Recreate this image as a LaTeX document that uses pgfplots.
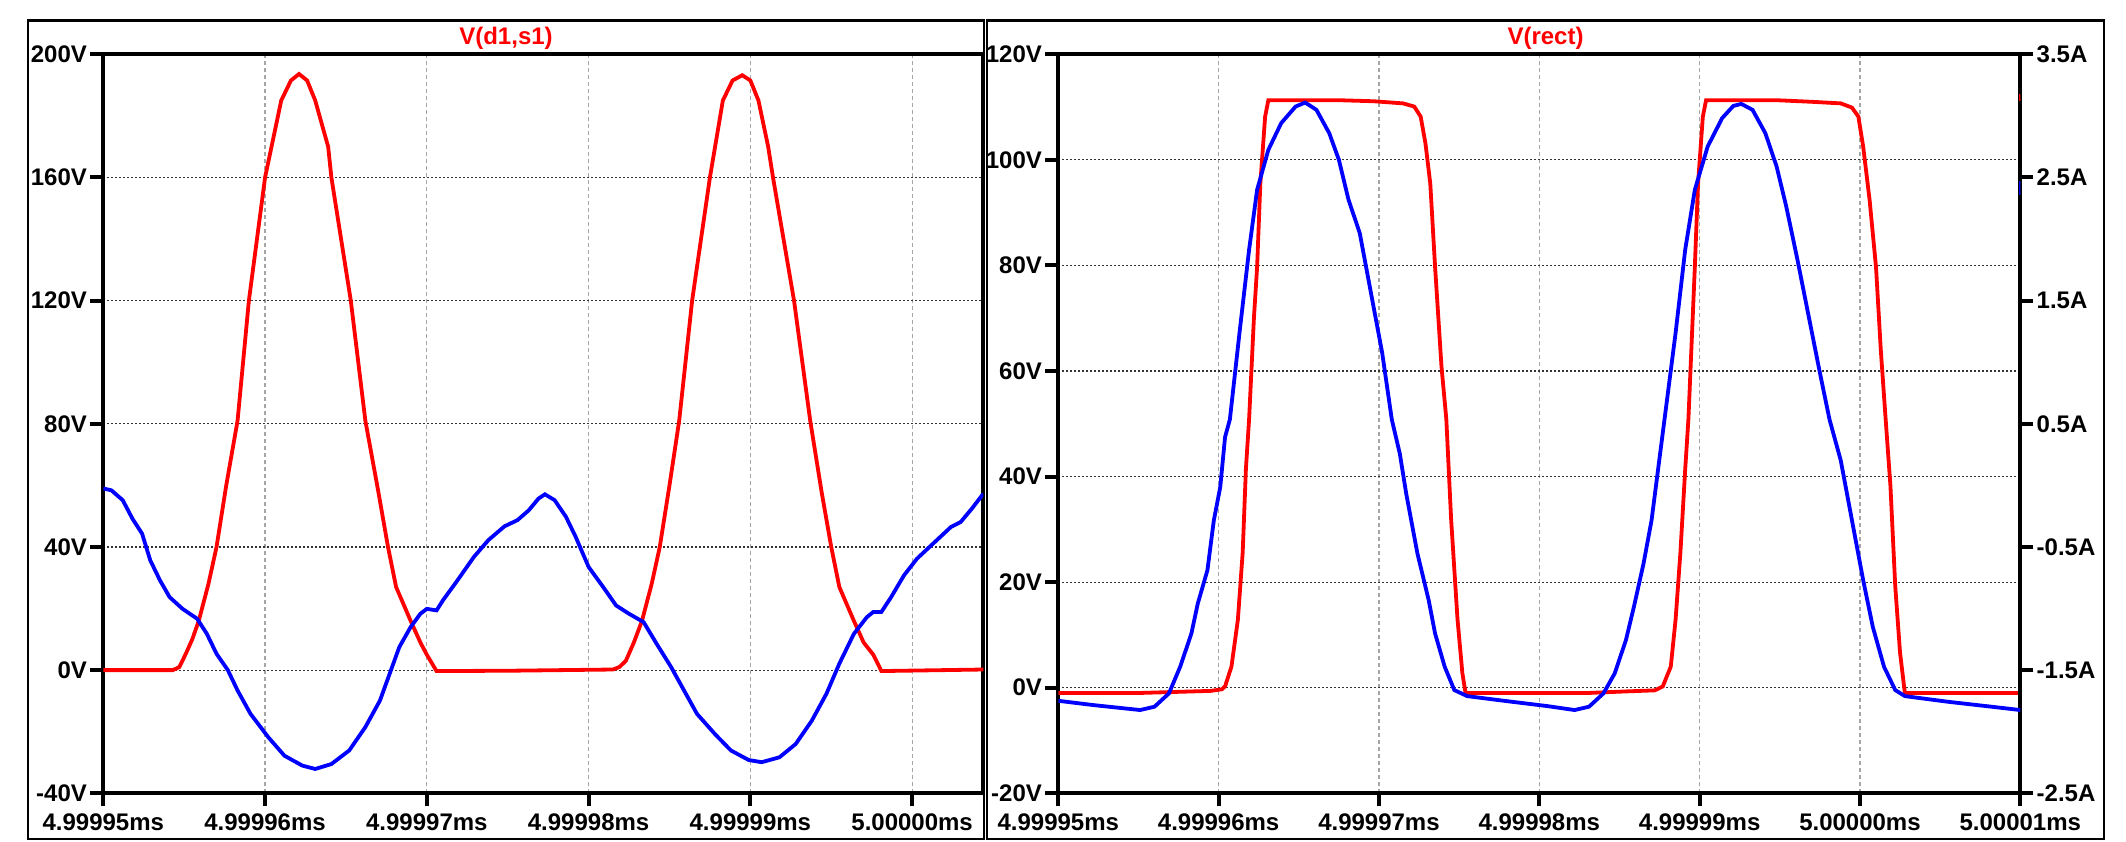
\documentclass[border=0pt]{standalone}
\usepackage{pgfplots}
\pgfplotsset{compat=1.18}
\usepackage{fontspec}
\setmainfont{Liberation Sans}

\pgfplotsset{
  ltspice/.style={
    scale only axis,
    anchor=south west,
    height=369.5pt,
    axis line style={line width=2pt, black},
    tick style={line width=2pt, black},
    major tick length=6.5pt,
    tick align=outside,
    xtick pos=bottom, ytick pos=left,
    tick label style={font=\fontsize{12}{14}\selectfont\bfseries},
    yticklabel style={inner xsep=1.5pt},
    xmajorgrids, ymajorgrids,
    x grid style={gray!70, line width=0.6pt, dash pattern=on 2pt off 1.5pt},
    y grid style={black!80, line width=0.6pt, dash pattern=on 1pt off 1pt},
  },
}

\begin{document}
\begin{tikzpicture}
\path[use as bounding box, fill=white] (0,0) rectangle (1063pt,420.5pt);
% pane frames
\draw[line width=1.2pt] (14pt,1pt) rectangle (492pt,410.15pt);
\draw[line width=1.2pt] (493.5pt,1pt) rectangle (1052pt,410.15pt);
\node[text=red, font=\fontsize{12}{14}\selectfont\bfseries] at (253pt,401.5pt) {V(d1,s1)};
\node[text=red, font=\fontsize{12}{14}\selectfont\bfseries] at (772.75pt,401.5pt) {V(rect)};

% left pane
\begin{axis}[ltspice,
  at={(51.65pt,23.85pt)}, width=440pt,
  xmin=0, xmax=5.44, ymin=-40, ymax=200,
  xtick={0,1,2,3,4,5},
  xticklabels={4.99995ms,4.99996ms,4.99997ms,4.99998ms,4.99999ms,5.00000ms},
  ytick={-40,0,40,80,120,160,200},
  yticklabels={-40V,0V,40V,80V,120V,160V,200V},
]
\addplot[red, line width=1.9pt] coordinates {
(0,0)(0.43,0)(0.47,1)(0.51,5.3)(0.55,10)(0.59,16)(0.65,28)(0.70,40)(0.76,60)(0.83,81)
(0.90,120)(1.00,160)(1.04,170)(1.10,185)(1.16,191.5)(1.21,193.6)(1.26,191.5)(1.31,185)
(1.39,170)(1.41,160)(1.53,120)(1.62,81)(1.70,58)(1.76,40)(1.81,27)(1.90,16)(1.96,9)(2.00,5)
(2.06,-0.3)(2.5,-0.2)(3.15,0.2)(3.19,1)(3.23,3)(3.28,9)(3.33,16)(3.39,28)(3.44,40)(3.50,60)(3.56,81)
(3.64,120)(3.75,160)(3.83,185)(3.89,191.5)(3.95,193.2)(4.00,191.5)(4.05,185)(4.11,170)
(4.14,160)(4.27,120)(4.37,81)(4.44,58)(4.50,40)(4.55,27)(4.64,16)(4.70,9)(4.76,5)(4.81,-0.3)(5.44,0.2)
};
\addplot[blue, line width=1.9pt] coordinates {
(0,59.0)(0.05,58.4)(0.12,55.2)(0.18,49.2)(0.24,44.3)(0.29,35.7)(0.35,29.2)(0.41,23.7)
(0.49,19.9)(0.58,16.7)(0.64,11.8)(0.70,5.3)(0.77,0)(0.83,-6.6)(0.91,-14.2)(1.02,-21.8)
(1.12,-27.8)(1.23,-31.0)(1.31,-32.1)(1.41,-30.5)(1.52,-26.1)(1.62,-18.5)(1.71,-9.9)
(1.77,-1.2)(1.83,7.5)(1.90,14.0)(1.96,18.3)(2.00,19.9)(2.06,19.4)(2.10,22.7)(2.19,29.2)
(2.29,36.7)(2.38,42.2)(2.48,46.7)(2.56,48.7)(2.63,51.9)(2.69,55.7)(2.73,57.1)(2.79,55.2)
(2.86,49.8)(2.92,43.3)(3.00,33.5)(3.09,27.0)(3.17,21.0)(3.25,18.3)(3.34,15.6)(3.42,8.6)
(3.51,1.0)(3.59,-6.6)(3.67,-14.2)(3.78,-20.7)(3.88,-26.1)(3.99,-29.2)(4.07,-29.9)
(4.18,-28.3)(4.28,-24.0)(4.38,-16.4)(4.47,-7.7)(4.55,2.1)(4.64,11.8)(4.72,17.2)(4.76,18.9)
(4.81,18.9)(4.87,23.7)(4.95,30.8)(5.03,36.2)(5.14,41.6)(5.24,46.5)(5.30,48.1)(5.37,52.5)(5.44,57.3)
};
\end{axis}

% right pane, voltage
\begin{axis}[ltspice,
  at={(529.15pt,23.85pt)}, width=481pt,
  xmin=0, xmax=6, ymin=-20, ymax=120,
  xtick={0,1,2,3,4,5,6},
  xticklabels={4.99995ms,4.99996ms,4.99997ms,4.99998ms,4.99999ms,5.00000ms,5.00001ms},
  ytick={-20,0,20,40,60,80,100,120},
  yticklabels={-20V,0V,20V,40V,60V,80V,100V,120V},
]
\addplot[red, line width=1.9pt] coordinates {
(0,-1.0)(0.5,-1.0)(0.95,-0.6)(1.02,-0.3)(1.04,0.25)(1.08,4)(1.12,12.9)(1.15,25.6)(1.17,41.4)
(1.19,50.9)(1.22,70)(1.24,79.7)(1.26,95.5)(1.29,108.2)(1.31,111.3)(1.75,111.3)(1.97,111.1)
(2.15,110.7)(2.22,110.1)(2.26,108.2)(2.29,103.1)(2.32,95.5)(2.35,79.7)(2.39,60.8)(2.42,50.9)
(2.45,31.9)(2.49,12.9)(2.52,2.8)(2.54,-1.0)(3.3,-1.0)(3.54,-0.7)(3.72,-0.5)(3.77,0.25)(3.82,4)
(3.85,12.9)(3.88,25.6)(3.91,41.4)(3.93,50.9)(3.97,79.7)(3.99,95.5)(4.02,108.2)(4.04,111.3)
(4.48,111.3)(4.70,111.0)(4.88,110.7)(4.95,109.9)(4.99,108.2)(5.02,102.5)(5.06,92.4)(5.10,79.7)
(5.13,63.9)(5.16,50.9)(5.19,38.2)(5.22,19.2)(5.25,6.6)(5.28,-1.0)(6.0,-1.0)
};
\end{axis}

% right pane, current
\begin{axis}[ltspice,
  at={(529.15pt,23.85pt)}, width=481pt,
  xmin=0, xmax=6, ymin=-2.5, ymax=3.5,
  axis x line=none, axis y line*=right, ytick pos=right,
  xmajorgrids=false, ymajorgrids=false,
  ytick={-2.5,-1.5,-0.5,0.5,1.5,2.5,3.5},
  yticklabels={-2.5A,-1.5A,-0.5A,0.5A,1.5A,2.5A,3.5A},
]
\addplot[blue, line width=1.9pt] coordinates {
(0.00,-1.749)(0.22,-1.784)(0.51,-1.824)(0.60,-1.797)(0.69,-1.689)(0.76,-1.473)(0.83,-1.203)
(0.87,-0.959)(0.93,-0.689)(0.97,-0.284)(1.01,-0.014)(1.04,0.392)(1.07,0.535)(1.13,1.238)
(1.19,1.914)(1.24,2.400)(1.31,2.724)(1.39,2.941)(1.48,3.076)(1.54,3.108)(1.61,3.049)
(1.69,2.859)(1.75,2.643)(1.81,2.319)(1.88,2.049)(1.95,1.562)(2.02,1.076)(2.08,0.535)
(2.13,0.257)(2.17,-0.068)(2.24,-0.554)(2.31,-0.932)(2.35,-1.203)(2.41,-1.473)(2.47,-1.662)
(2.55,-1.711)(2.78,-1.749)(3.05,-1.792)(3.22,-1.824)(3.31,-1.797)(3.40,-1.689)(3.47,-1.527)
(3.54,-1.257)(3.59,-0.986)(3.65,-0.635)(3.70,-0.284)(3.74,0.122)(3.78,0.527)(3.85,1.238)
(3.91,1.914)(3.97,2.400)(4.05,2.751)(4.14,2.981)(4.21,3.081)(4.26,3.097)(4.33,3.049)
(4.41,2.859)(4.48,2.589)(4.54,2.265)(4.61,1.832)(4.68,1.373)(4.75,0.914)(4.81,0.535)
(4.88,0.203)(4.95,-0.284)(5.02,-0.770)(5.08,-1.149)(5.15,-1.473)(5.22,-1.662)(5.28,-1.711)
(5.55,-1.757)(5.82,-1.797)(6.00,-1.824)
};
% trace end markers on the right edge
\addplot[red, line width=1.5pt, clip=false, forget plot] coordinates {(6.0,3.12)(6.0,3.18)};
\addplot[blue, line width=1.5pt, clip=false, forget plot] coordinates {(6.0,2.36)(6.0,2.47)};
\end{axis}
\end{tikzpicture}
\end{document}
